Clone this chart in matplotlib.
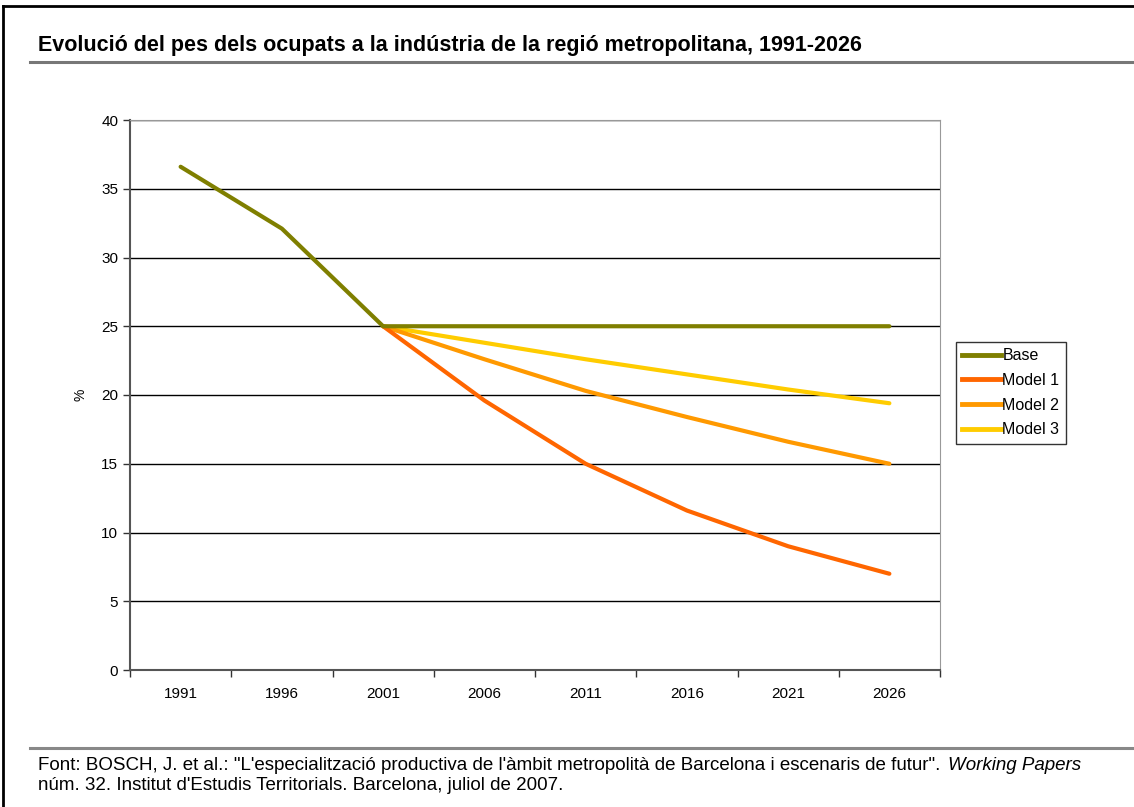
import numpy as np
import matplotlib.pyplot as plt
from matplotlib.lines import Line2D

plt.rcParams['font.family'] = ['Liberation Sans', 'DejaVu Sans']

years = ['1991', '1996', '2001', '2006', '2011', '2016', '2021', '2026']
base = [36.6, 32.1, 25.0, 25.0, 25.0, 25.0, 25.0, 25.0]
model1 = [np.nan, np.nan, 25.0, 19.6, 15.0, 11.6, 9.0, 7.0]
model2 = [np.nan, np.nan, 25.0, 22.6, 20.3, 18.4, 16.6, 15.0]
model3 = [np.nan, np.nan, 25.0, 23.8, 22.6, 21.5, 20.4, 19.4]

names = ['Base', 'Model 1', 'Model 2', 'Model 3']
colors = ['#7f7f00', '#ff6600', '#ff9900', '#ffcc00']

W, H = 1134, 807
fig = plt.figure(figsize=(W / 100, H / 100), dpi=100)
ax = fig.add_axes([130 / W, 1 - 670 / H, 810 / W, 550 / H])

x = np.arange(len(years))
# reverse order so Base sits on top at the 2001 junction
for vals, c in zip([model3, model2, model1, base], colors[::-1]):
    ax.plot(x, vals, color=c, lw=3.0, solid_capstyle='round', zorder=3)

ax.set_xlim(-0.5, len(years) - 0.5)
ax.set_ylim(0, 40)
ax.set_yticks(range(0, 41, 5))
ax.set_xticks(x)
ax.set_xticklabels(years)
ax.set_xticks(np.arange(-0.5, len(years)), minor=True)
ax.tick_params(axis='x', which='major', length=0, pad=12, labelsize=11)
ax.tick_params(axis='x', which='minor', length=5, width=1, direction='out', color='#333333')
ax.tick_params(axis='y', length=5, width=1, direction='out', labelsize=11, color='#333333')
ax.yaxis.grid(True, color='black', lw=1)
ax.set_axisbelow(True)
for s in ['top', 'right']:
    ax.spines[s].set_color('#999999')
for s in ['left', 'bottom']:
    ax.spines[s].set_color('#555555')
    ax.spines[s].set_linewidth(1.5)
ax.set_ylabel('%', fontsize=10, labelpad=10)

handles = [Line2D([0], [0], color=c, lw=3.5) for c in colors]
leg = fig.legend(handles, names, loc='upper left', bbox_to_anchor=(956 / W, 1 - 342 / H),
                 fontsize=11.5, frameon=True, fancybox=False, handlelength=2.4,
                 handletextpad=0.1, borderpad=0.4, labelspacing=0.6, borderaxespad=0)
leg.get_frame().set_edgecolor('black')
leg.get_frame().set_linewidth(1)

# title and separator lines
fig.text(38 / W, 1 - 46 / H, 'Evolució del pes dels ocupats a la indústria de la regió metropolitana, 1991-2026',
         fontsize=15.5, fontweight='bold', va='center', ha='left')
fig.add_artist(Line2D([30 / W, 1], [1 - 62 / H, 1 - 62 / H], color='#777777', lw=2.2))
fig.add_artist(Line2D([30 / W, 1], [1 - 748 / H, 1 - 748 / H], color='#888888', lw=2.2))

t1 = fig.text(38 / W, 1 - 766 / H,
              'Font: BOSCH, J. et al.: "L\'especialització productiva de l\'àmbit metropolità de Barcelona i escenaris de futur". ',
              fontsize=13.5, va='center', ha='left')
fig.canvas.draw()
bb = t1.get_window_extent()
fig.text(bb.x1 / W + 2 / W, 1 - 766 / H, 'Working Papers', fontsize=13.5, style='italic',
         va='center', ha='left')
fig.text(38 / W, 1 - 786 / H, 'núm. 32. Institut d\'Estudis Territorials. Barcelona, juliol de 2007.',
         fontsize=13.5, va='center', ha='left')

# page border (left and top)
fig.add_artist(Line2D([3 / W, 3 / W], [0, 1 - 6 / H], color='black', lw=2))
fig.add_artist(Line2D([3 / W, 1], [1 - 6 / H, 1 - 6 / H], color='black', lw=2))

fig.savefig('out.png', dpi=100)
